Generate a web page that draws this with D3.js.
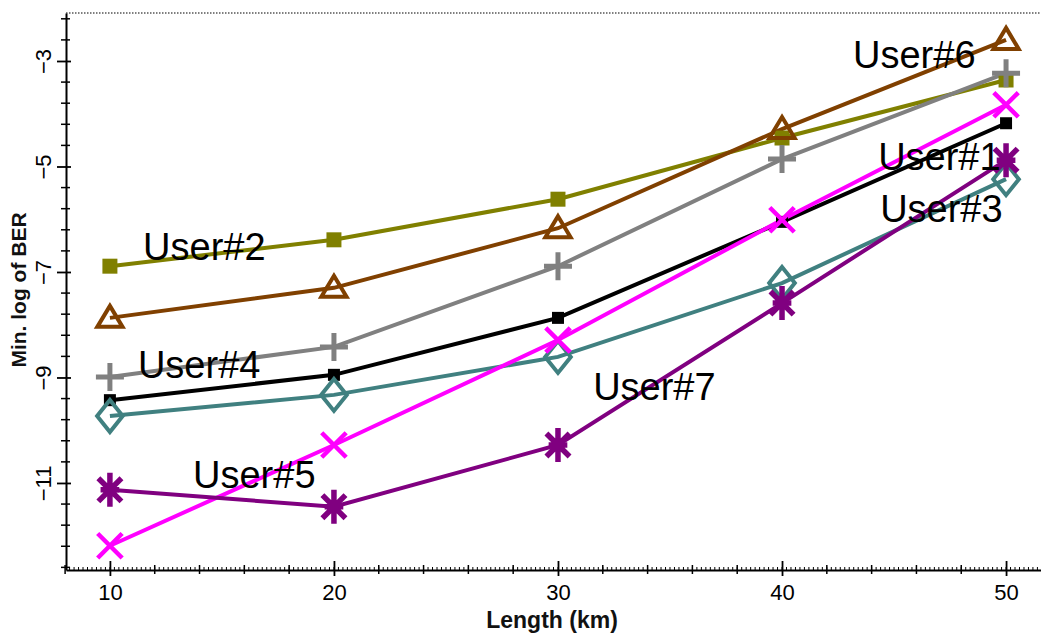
<!DOCTYPE html>
<html>
<head>
<meta charset="utf-8">
<script src="https://cdn.jsdelivr.net/npm/d3@7"></script>
<style>
html,body{margin:0;padding:0;background:#fff;}
svg{display:block;}
text{font-family:"Liberation Sans",Arial,sans-serif;}
</style>
</head>
<body>
<svg id="chart" width="1041" height="635"></svg>
<script>
// ---- data ----
const lengths = [10, 20, 30, 40, 50];
const user1 = [-9.43, -8.95, -7.87, -6.05, -4.18];
const user2 = [-6.89, -6.39, -5.62, -4.46, -3.36];
const user3 = [-9.73, -9.33, -8.61, -7.21, -5.24];
const user4 = [-8.99, -8.42, -6.89, -4.86, -3.23];
const user5 = [-11.13, -11.45, -10.28, -7.59, -4.88];
const user6 = [-7.87, -7.30, -6.17, -4.29, -2.60];
const user7 = [-12.19, -10.28, -8.29, -6.01, -3.83];
const seriesNames = ["User#2", "User#6", "User#4", "User#1", "User#3", "User#7", "User#5"];
const xTickValues = [10, 20, 30, 40, 50];
const yTickValues = [-3, -5, -7, -9, -11];
// label anchors (data coords: length, value)
const labelX = [11.48, 43.17, 11.25, 44.29, 44.38, 31.57, 13.71];
const labelY = [-6.77, -3.13, -9.01, -5.07, -6.05, -9.43, -11.09];

const seriesValues = [user2, user6, user4, user1, user3, user7, user5];
const colors = ["#808000", "#804000", "#808080", "#000000", "#408080", "#ff00ff", "#800080"];
const markers = ["square", "triangle", "plus", "squareSmall", "diamond", "cross", "asterisk"];

const svg = d3.select("#chart");
const x = d3.scaleLinear().domain([8.04, 51.56]).range([66, 1041]);
const y = d3.scaleLinear().domain([-12.65, -2.09]).range([570, 13]);

// top dotted border
svg.append("line").attr("x1", 66).attr("x2", 1041).attr("y1", 13).attr("y2", 13)
  .attr("stroke", "#555").attr("stroke-width", 1.5).attr("stroke-dasharray", "1.5,1.5");

// x axis fine ticks
const xAxisG = svg.append("g");
const fine = d3.range(8.2, 51.5, 0.2);
xAxisG.selectAll(".fine").data(fine).enter().append("line")
  .attr("x1", d => x(d)).attr("x2", d => x(d)).attr("y1", 567).attr("y2", 571)
  .attr("stroke", "#000").attr("stroke-width", 1);
const medium = d3.range(8, 52, 2).filter(v => v % 10 !== 0);
xAxisG.selectAll(".med").data(medium).enter().append("line")
  .attr("x1", d => x(d)).attr("x2", d => x(d)).attr("y1", 565).attr("y2", 574)
  .attr("stroke", "#000").attr("stroke-width", 1.5);
const xAxis = d3.axisBottom(x).tickValues(xTickValues).tickSize(0).tickPadding(14).tickFormat(d3.format("d"));
const gx = svg.append("g").attr("transform", "translate(0,570)").call(xAxis);
gx.select(".domain").attr("stroke", "#000").attr("stroke-width", 2);
gx.selectAll(".tick text").attr("font-size", 22).attr("fill", "#000")
  .attr("font-family", "'Liberation Sans',Arial,sans-serif");
gx.selectAll(".tick").append("line").attr("y1", -9).attr("y2", 6).attr("stroke", "#000").attr("stroke-width", 1.8);

// y axis
const yMinor = d3.range(-12.6, -2.1, 0.4).filter(v => !yTickValues.some(t => Math.abs(t - v) < 1e-6));
svg.append("g").selectAll("line").data(yMinor).enter().append("line")
  .attr("x1", 61).attr("x2", 70).attr("y1", d => y(d)).attr("y2", d => y(d))
  .attr("stroke", "#000").attr("stroke-width", 1.5);
const yAxis = d3.axisLeft(y).tickValues(yTickValues).tickSize(0).tickFormat(d3.format("d"));
const gy = svg.append("g").attr("transform", "translate(66,0)").call(yAxis);
gy.select(".domain").attr("stroke", "#000").attr("stroke-width", 2);
gy.selectAll(".tick").append("line").attr("x1", -9).attr("x2", 5).attr("stroke", "#000").attr("stroke-width", 1.8);
gy.selectAll(".tick text").attr("font-size", 22).attr("fill", "#000")
  .attr("font-family", "'Liberation Sans',Arial,sans-serif")
  .attr("x", 0).attr("dy", 0).attr("text-anchor", "middle")
  .attr("transform", "translate(-15,0) rotate(-90)");

// axis titles
svg.append("text").attr("x", 552).attr("y", 628).attr("text-anchor", "middle")
  .attr("font-size", 23).attr("font-weight", "bold").attr("fill", "#111").text("Length (km)");
svg.append("text").attr("transform", "translate(26,290) rotate(-90)").attr("text-anchor", "middle")
  .attr("font-size", 21).attr("font-weight", "bold").attr("fill", "#111").text("Min. log of BER");

// custom symbols
function mkSymbol(kind) {
  return {
    draw(ctx, size) {
      const r = Math.sqrt(size) / 2;
      if (kind === "diamond") {
        const w = r * 0.8, h = r;
        ctx.moveTo(0, -h); ctx.lineTo(w, 0); ctx.lineTo(0, h); ctx.lineTo(-w, 0); ctx.closePath();
      } else if (kind === "plus") {
        ctx.moveTo(-r, 0); ctx.lineTo(r, 0); ctx.moveTo(0, -r); ctx.lineTo(0, r);
      } else if (kind === "cross") {
        const a = r * 0.72;
        ctx.moveTo(-a, -a); ctx.lineTo(a, a); ctx.moveTo(a, -a); ctx.lineTo(-a, a);
      } else if (kind === "asterisk") {
        const a = r * 0.68;
        ctx.moveTo(-a, -a); ctx.lineTo(a, a); ctx.moveTo(a, -a); ctx.lineTo(-a, a);
        ctx.moveTo(0, -r); ctx.lineTo(0, r); ctx.moveTo(-r * 0.55, 0); ctx.lineTo(r * 0.55, 0);
      } else if (kind === "triangle") {
        const h = r * 1.0;
        ctx.moveTo(0, -h); ctx.lineTo(r * 1.05, h * 0.75); ctx.lineTo(-r * 1.05, h * 0.75); ctx.closePath();
      } else {
        ctx.rect(-r, -r, 2 * r, 2 * r);
      }
    }
  };
}
const markerSpec = {
  square: {size: 15 * 15, fill: true, sw: 0},
  squareSmall: {size: 12 * 12, fill: true, sw: 0},
  triangle: {size: 24 * 24, fill: false, sw: 4},
  plus: {size: 28 * 28, fill: false, sw: 5},
  diamond: {size: 32 * 32, fill: false, sw: 4},
  cross: {size: 34 * 34, fill: false, sw: 4.5},
  asterisk: {size: 34 * 34, fill: false, sw: 5.5}
};

const line = d3.line().x((d, i) => x(lengths[i])).y(d => y(d));
const plot = svg.append("g");
seriesValues.forEach((vals, si) => {
  plot.append("path").datum(vals).attr("d", line).attr("fill", "none")
    .attr("stroke", colors[si]).attr("stroke-width", 4);
});
seriesValues.forEach((vals, si) => {
  const spec = markerSpec[markers[si]];
  const sym = d3.symbol().type(mkSymbol(markers[si].replace("Small", ""))).size(spec.size);
  plot.append("g").selectAll("path").data(vals).enter().append("path")
    .attr("transform", (d, i) => `translate(${x(lengths[i])},${y(d)})`)
    .attr("d", sym)
    .attr("fill", spec.fill ? colors[si] : (markers[si] === "triangle" || markers[si] === "diamond" ? "#fff" : "none"))
    .attr("fill-opacity", spec.fill ? 1 : 0)
    .attr("stroke", colors[si]).attr("stroke-width", spec.sw || 0)
    .attr("stroke-linejoin", "miter");
});

// series labels
svg.append("g").selectAll("text").data(seriesNames).enter().append("text")
  .attr("x", (d, i) => x(labelX[i])).attr("y", (d, i) => y(labelY[i]))
  .attr("font-size", 38).attr("fill", "#000").text(d => d);
</script>
</body>
</html>
